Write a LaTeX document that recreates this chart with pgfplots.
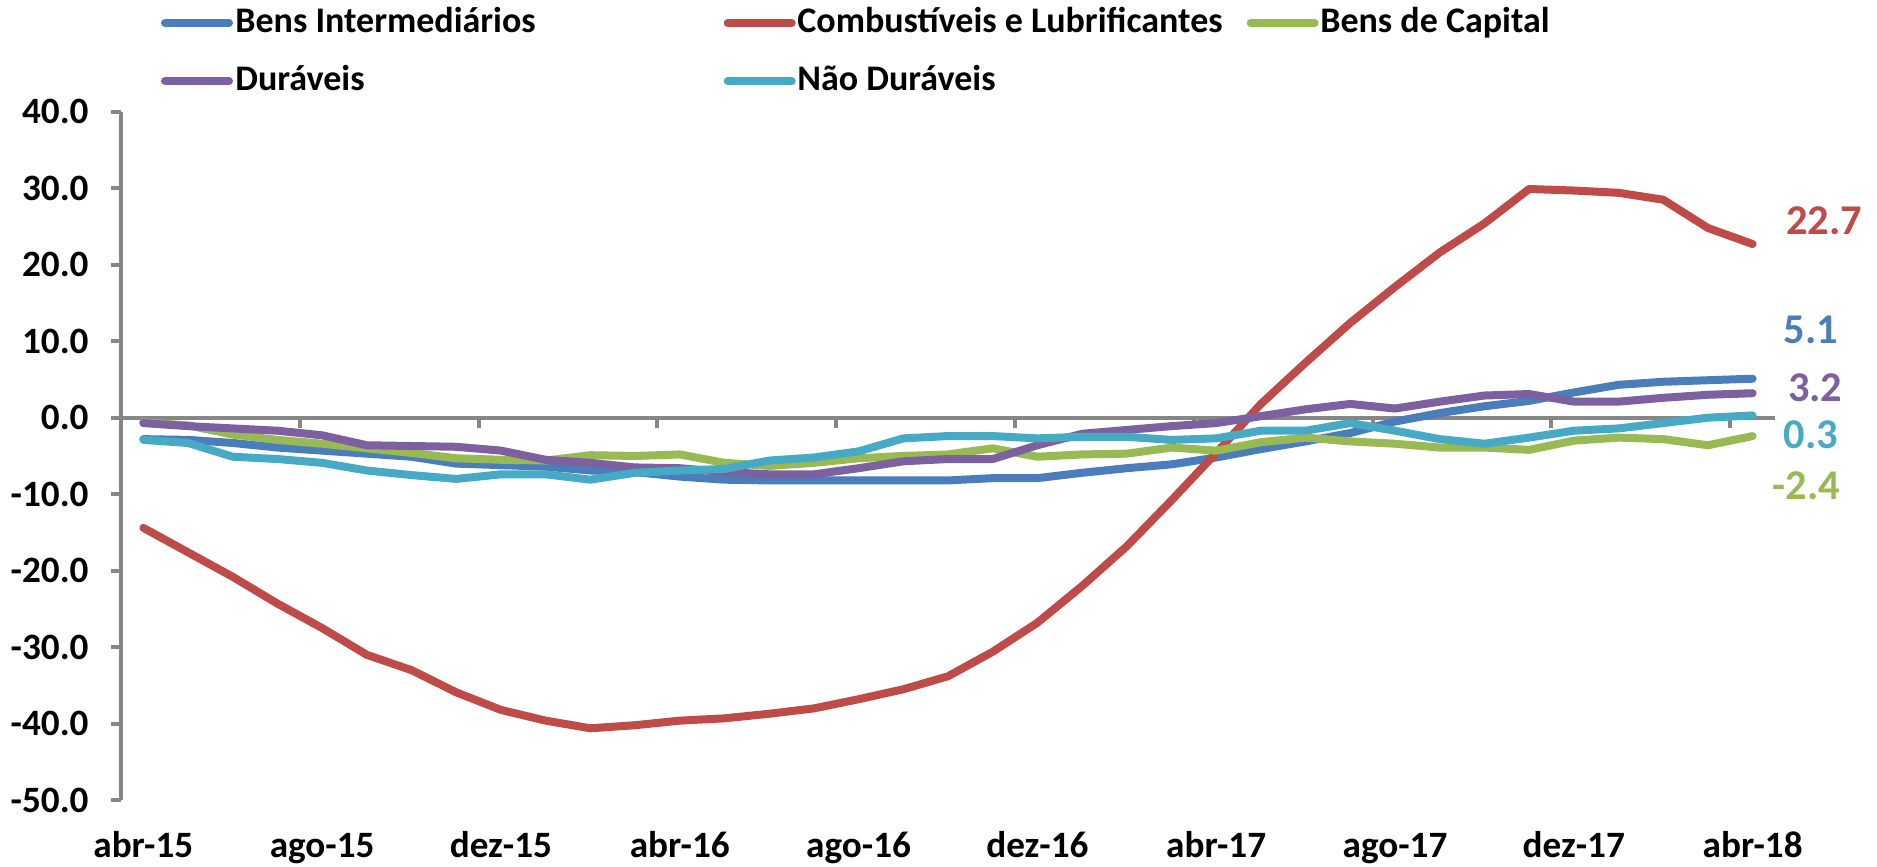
\documentclass[border=0pt]{standalone}
\usepackage{fontspec}
\setmainfont{Carlito}
\usepackage{pgfplots}
\usepackage{pgfplotstable}
\pgfplotsset{compat=1.18}
\definecolor{cblue}{RGB}{74,126,187}
\definecolor{cred}{RGB}{190,75,72}
\definecolor{cgreen}{RGB}{152,185,84}
\definecolor{cpurple}{RGB}{125,96,160}
\definecolor{ccyan}{RGB}{70,170,197}
\definecolor{axgray}{RGB}{134,134,134}

\pgfplotstableread{
i bi comb cap dur ndur
0 -2.8 -14.4 -0.6 -0.7 -2.9
1 -2.9 -17.6 -1.0 -1.1 -3.3
2 -3.3 -20.8 -2.2 -1.4 -5.1
3 -3.9 -24.3 -2.9 -1.7 -5.4
4 -4.3 -27.5 -3.4 -2.3 -5.9
5 -4.7 -31.0 -4.0 -3.6 -6.9
6 -5.1 -33.0 -4.6 -3.7 -7.5
7 -6.0 -35.9 -5.3 -3.8 -8.0
8 -6.2 -38.2 -5.5 -4.3 -7.4
9 -6.4 -39.6 -5.6 -5.5 -7.4
10 -6.9 -40.6 -4.9 -5.9 -8.1
11 -7.1 -40.2 -5.0 -6.5 -7.2
12 -7.7 -39.6 -4.8 -6.6 -6.9
13 -8.1 -39.3 -5.9 -7.1 -6.7
14 -8.2 -38.7 -6.3 -7.4 -5.6
15 -8.2 -38.0 -5.9 -7.4 -5.2
16 -8.2 -36.8 -5.3 -6.6 -4.4
17 -8.2 -35.5 -5.0 -5.7 -2.7
18 -8.2 -33.8 -4.8 -5.4 -2.4
19 -7.9 -30.6 -4.0 -5.4 -2.4
20 -7.9 -26.8 -5.1 -3.6 -2.7
21 -7.2 -22.0 -4.8 -2.1 -2.5
22 -6.6 -16.8 -4.7 -1.6 -2.5
23 -6.1 -10.8 -3.9 -1.1 -2.9
24 -5.2 -4.6 -4.3 -0.7 -2.7
25 -4.1 1.8 -3.2 0.2 -1.7
26 -3.1 7.2 -2.6 1.1 -1.7
27 -2.0 12.4 -3.1 1.8 -0.7
28 -0.5 17.1 -3.4 1.2 -1.7
29 0.6 21.6 -3.9 2.1 -2.8
30 1.5 25.4 -3.9 2.9 -3.4
31 2.2 29.9 -4.2 3.1 -2.6
32 3.3 29.7 -3.0 2.1 -1.7
33 4.3 29.4 -2.6 2.1 -1.4
34 4.7 28.5 -2.8 2.6 -0.7
35 4.9 24.8 -3.6 3.0 0.0
36 5.1 22.7 -2.4 3.2 0.3
}\dados

\pgfplotsset{
  base/.style={scale only axis, width=413.5pt, height=172.125pt,
    xmin=-0.5, xmax=36.5, ymin=-50, ymax=40},
  serie/.style={#1, line width=2pt, line join=round, line cap=round},
}

\begin{document}
\begin{tikzpicture}
\path[use as bounding box] (-30.25pt,-16.7pt) rectangle (439pt,200.05pt);

% zero line with ticks between categories
\begin{axis}[base,
  axis x line=middle, axis y line=none,
  x axis line style={-, draw=axgray, line width=1pt},
  xtick={3.5,7.5,...,35.5}, xticklabels={}, ytick=\empty,
  xtick align=outside, major tick length=2.5pt,
  x tick style={draw=axgray, line width=1pt}]
\end{axis}

\begin{axis}[base, clip=false,
  axis x line*=bottom, axis y line*=left,
  x axis line style={draw=none},
  y axis line style={draw=axgray, line width=1pt},
  xtick={0,4,...,36},
  xticklabels={abr-15,ago-15,dez-15,abr-16,ago-16,dez-16,abr-17,ago-17,dez-17,abr-18},
  x tick style={draw=none},
  ytick={-50,-40,...,40},
  y tick style={draw=axgray, line width=1pt},
  tick align=outside, major tick length=2.5pt,
  /pgf/number format/assume math mode=true,
  yticklabel={\pgfmathprintnumber[fixed,fixed zerofill,precision=1]{\tick}},
  tick label style={font=\bfseries\fontsize{9.3}{11}\selectfont},
  xticklabel style={anchor=base, inner sep=0pt, yshift=-11.8pt},
  yticklabel style={anchor=east, inner sep=0pt, xshift=-5.4pt},
  legend columns=3,
  legend cell align=left,
  legend image code/.code={\draw[#1] (0pt,0pt) -- (16pt,0pt);},
  legend style={draw=none, fill=none, inner sep=0pt,
    at={(rel axis cs:0,1)}, anchor=west, xshift=9.8pt, yshift=14.95pt,
    font=\bfseries\fontsize{9}{10.8}\selectfont,
    nodes={inner sep=0pt, text height=7pt, text depth=2pt},
    row sep=5.5pt,
    /tikz/column 1/.style={column sep=0.6pt},
    /tikz/column 2/.style={column sep=47pt},
    /tikz/column 3/.style={column sep=0.4pt},
    /tikz/column 4/.style={column sep=6pt},
    /tikz/column 5/.style={column sep=0.4pt}},
]
\addplot[serie=cblue] table[x=i, y=bi] {\dados};
\addlegendentry{Bens Intermediários}
\addplot[serie=cred] table[x=i, y=comb] {\dados};
\addlegendentry{Combustíveis e Lubrificantes}
\addplot[serie=cgreen] table[x=i, y=cap] {\dados};
\addlegendentry{Bens de Capital}
\addplot[serie=cpurple] table[x=i, y=dur] {\dados};
\addlegendentry{Duráveis}
\addplot[serie=ccyan] table[x=i, y=ndur] {\dados};
\addlegendentry{Não Duráveis}

\begin{scope}[font=\bfseries\fontsize{10.6}{12.5}\selectfont, inner sep=0pt]
\node[text=cred] at (axis cs:37.6,25.8) {22.7};
\node[text=cblue] at (axis cs:37.3,11.5) {5.1};
\node[text=cpurple] at (axis cs:37.4,3.9) {3.2};
\node[text=ccyan] at (axis cs:37.3,-2.2) {0.3};
\node[text=cgreen] at (axis cs:37.2,-8.9) {-2.4};
\end{scope}
\end{axis}
\end{tikzpicture}
\end{document}
